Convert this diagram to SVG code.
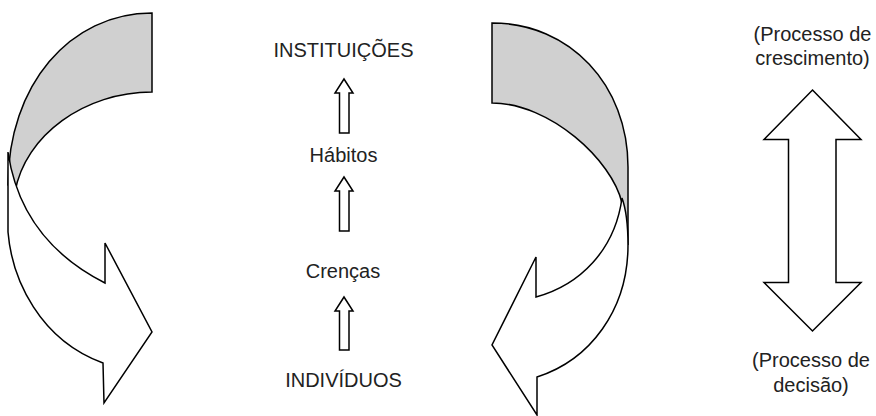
<svg xmlns="http://www.w3.org/2000/svg" width="876" height="416" viewBox="0 0 876 416">
<style>
.s{stroke:#000;stroke-width:1.5;stroke-linejoin:miter}
.g{fill:#d0d0d0}
.w{fill:#fff}
.t{font-family:"Liberation Sans",Arial,sans-serif;font-size:20px;fill:#222;text-anchor:middle}
</style>
<rect width="876" height="416" fill="#fff"/>
<g id="left-curved-arrow">
<path class="s g" d="M152,13 L152,92 C85,92 25,135 15,192 L8,185 C8,85 70,13 152,13 Z"/>
<path class="s w" d="M8,152 L8,232 C12,280 40,340 103,363 L104,403 L152,332 L105,243 L105,283 C40,250 15,200 8,152 Z"/>
</g>
<g id="right-curved-arrow">
<path class="s g" d="M492,23 L492,103 C550,103 612,160 622,203 L628,245 L628,167 C628,85 570,23 492,23 Z"/>
<path class="s w" d="M622,198 C627,212 628,228 628,245 C628,310 590,360 537,377 L537,415 L492,345 L536,257 L536,297 C580,285 615,250 622,198 Z"/>
</g>
<g id="connectors">
<path class="s w" d="M344,79 L353,93 L349,93 L349,133 L339.5,133 L339.5,93 L335,93 Z"/>
<path class="s w" d="M344,177 L353,191 L349,191 L349,231 L339.5,231 L339.5,191 L335,191 Z"/>
<path class="s w" d="M344,297 L353,311 L349,311 L349,350 L339.5,350 L339.5,311 L335,311 Z"/>
</g>
<g id="double-arrow">
<path class="s w" d="M812.5,90 L861,139.5 L836,139.5 L836,282.5 L861,282.5 L812.5,331 L764,282.5 L788.5,282.5 L788.5,139.5 L764,139.5 Z"/>
</g>
<g id="instituicoes"><text class="t" x="343.5" y="57">INSTITUIÇÕES</text></g>
<g id="habitos"><text class="t" x="343.5" y="162">Hábitos</text></g>
<g id="crencas"><text class="t" x="343" y="278">Crenças</text></g>
<g id="individuos"><text class="t" x="343.5" y="387">INDIVÍDUOS</text></g>
<g id="label-crescimento"><text class="t" x="812.5" y="40.5">(Processo de</text><text class="t" x="812.5" y="65">crescimento)</text></g>
<g id="label-decisao"><text class="t" x="811" y="367">(Processo de</text><text class="t" x="811" y="392">decisão)</text></g>
</svg>
